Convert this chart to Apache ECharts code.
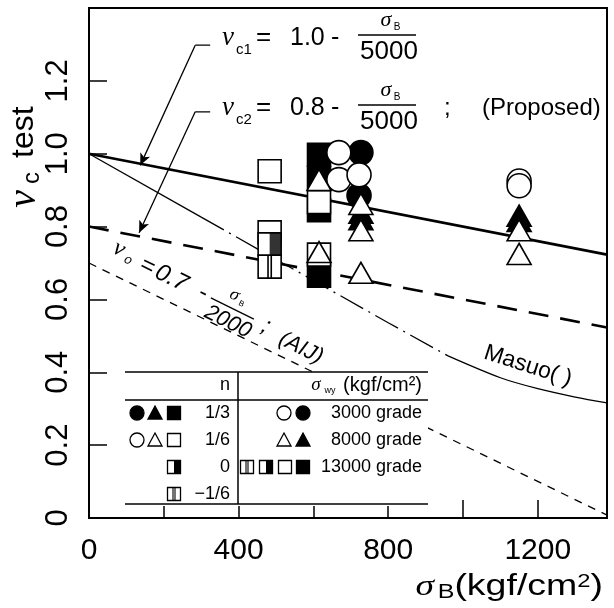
<!DOCTYPE html>
<html>
<head>
<meta charset="utf-8">
<script src="https://cdn.jsdelivr.net/npm/echarts@6/dist/echarts.min.js"></script>
<style>
  html, body { margin: 0; padding: 0; background: #fff; }
  #chart { width: 614px; height: 608px; }
</style>
</head>
<body>
<div id="chart"></div>
<script>
// design lines (sigma_B in kgf/cm2, nu)
const sigmaLine = [0, 1385]
const nuC1 = [1.0, 0.723]
const nuC2 = [0.8, 0.523]
const nuAIJ = [0.7, 0.008]
const masuoSigma = [0, 300, 600, 800, 960, 1100, 1200, 1300, 1385]
const masuoNu = [1.0, 0.826, 0.652, 0.536, 0.445, 0.385, 0.355, 0.332, 0.316]

// test points
const openCircle = [[668, 1.003], [668, 0.929], [722, 0.942], [1150, 0.925], [1150, 0.912]]
const fullCircle = [[727, 1.003], [722, 0.885]]
const openTri = [[615, 0.928], [727, 0.862], [727, 0.79], [1150, 0.79], [1150, 0.725], [727, 0.673], [615, 0.73]]
const fullTri = [[727, 0.838], [727, 0.82], [1150, 0.83], [1150, 0.815]]
const fullSq = [[615, 0.997], [615, 0.934], [615, 0.845], [615, 0.665]]
const openSq = [[483, 0.952], [483, 0.784], [615, 0.867], [615, 0.723]]
const halfSq = [[483, 0.751]]
const splitSq = [[483, 0.69]]

// arrows from the formulas to the lines
const arrow1Stub = [[324, 1.298], [284, 1.298]]
const arrow1Tip = [137, 0.968]
const arrow2Stub = [[324, 1.115], [284, 1.115]]
const arrow2Tip = [134, 0.783]

const xLabels = [0, 400, 800, 1200]
const yLabels = [0, 0.2, 0.4, 0.6, 0.8, 1.0, 1.2]

const pairs = (xs, ys) => xs.map((x, i) => [x, ys[i]])
const masuo = pairs(masuoSigma, masuoNu)

const SANS = 'Liberation Sans, Arial, sans-serif'
const SERIF = 'Liberation Serif, Times New Roman, serif'
const splitPath = 'path://M0,0L10,0L10,10L0,10Z M4.3,0L4.3,10 M5.7,0L5.7,10'

const chart = echarts.init(document.getElementById('chart'))

const lineBase = { type: 'line', symbol: 'none', silent: true, z: 2 }
const dots = (data, symbol, size, fill, z) => ({
  type: 'scatter', data, symbol, symbolSize: size, silent: true, z,
  itemStyle: { color: fill, borderColor: '#000', borderWidth: 1.6, opacity: 1 },
})
const arrow = (stub, tip) => ({
  ...lineBase,
  data: stub,
  lineStyle: { color: '#000', width: 1.3 },
  markLine: {
    silent: true,
    symbol: ['none', 'arrow'],
    symbolSize: [8, 12],
    label: { show: false },
    lineStyle: { color: '#000', width: 1.3, type: 'solid' },
    data: [[{ coord: stub[1] }, { coord: tip }]],
  },
})

// helpers for the text annotations
const txt = (x, y, text, size, extra, el) => Object.assign({
  type: 'text', x, y, z: 60,
  style: Object.assign({ text, fontSize: size, fontFamily: SANS, fill: '#000', align: 'left', verticalAlign: 'middle' }, extra || {}),
}, el || {})
const greek = { fontFamily: SERIF, fontStyle: 'italic' }
const hline = (x1, x2, y, w) => ({ type: 'line', z: 60, shape: { x1, y1: y, x2, y2: y }, style: { stroke: '#000', lineWidth: w || 1.5 } })
const vline = (x, y1, y2, w) => ({ type: 'line', z: 60, shape: { x1: x, y1, x2: x, y2 }, style: { stroke: '#000', lineWidth: w || 1.5 } })

const formula = (dy, sub, head) => [
  txt(222, 38 + dy, 'ν', 27, greek),
  txt(236, 50 + dy, sub, 15),
  txt(256, 38 + dy, '=', 26),
  txt(290, 38 + dy, head, 25),
  txt(331, 38 + dy, '-', 25),
  txt(386, 20 + dy, 'σ', 22, Object.assign({ align: 'center' }, greek)),
  txt(397, 27 + dy, 'B', 10, { align: 'center' }),
  hline(358, 416, 35 + dy),
  txt(389, 52 + dy, '5000', 26, { align: 'center' }),
]

// legend glyphs
const G = 7
const gCircle = (cx, cy, fill) => ({ type: 'circle', z: 60, shape: { cx, cy, r: G }, style: { fill, stroke: '#000', lineWidth: 1.3 } })
const gTri = (cx, cy, fill) => ({ type: 'polygon', z: 60, shape: { points: [[cx, cy - G], [cx + G, cy + G - 1], [cx - G, cy + G - 1]] }, style: { fill, stroke: '#000', lineWidth: 1.3 } })
const gSq = (cx, cy, fill) => ({ type: 'rect', z: 60, shape: { x: cx - G + 0.5, y: cy - G + 0.5, width: 2 * G - 1, height: 2 * G - 1 }, style: { fill, stroke: '#000', lineWidth: 1.3 } })
const gHalf = (cx, cy) => [gSq(cx, cy, '#fff'), { type: 'rect', z: 61, shape: { x: cx, y: cy - G + 0.5, width: G - 0.5, height: 2 * G - 1 }, style: { fill: '#000' } }]
const gSplit = (cx, cy) => [gSq(cx, cy, '#fff'), vline(cx - 1, cy - G, cy + G, 1.1), vline(cx + 1, cy - G, cy + G, 1.1)]

const legend = [
  { type: 'rect', z: 50, shape: { x: 125, y: 372, width: 303, height: 134 }, style: { fill: '#fff' } },
  hline(125, 428, 372), hline(125, 428, 400), hline(125, 428, 504), vline(238, 372, 504),
  txt(230, 385, 'n', 18, { align: 'right' }),
  txt(316, 385, 'σ', 19, Object.assign({ align: 'center' }, greek)),
  txt(330, 391, 'wy', 9, { align: 'center' }),
  txt(422, 385, '(kgf/cm²)', 20, { align: 'right' }),
  gCircle(137, 413, '#000'), gTri(155, 413, '#000'), gSq(174, 413, '#000'),
  txt(230, 413, '1/3', 18, { align: 'right' }),
  gCircle(137, 440, '#fff'), gTri(155, 440, '#fff'), gSq(174, 440, '#fff'),
  txt(230, 440, '1/6', 18, { align: 'right' }),
  ...gHalf(174, 467),
  txt(230, 467, '0', 18, { align: 'right' }),
  ...gSplit(174, 494),
  txt(230, 494, '−1/6', 18, { align: 'right' }),
  gCircle(284, 413, '#fff'), gCircle(303, 413, '#000'),
  txt(422, 413, '3000 grade', 18, { align: 'right' }),
  gTri(284, 440, '#fff'), gTri(303, 440, '#000'),
  txt(422, 440, '8000 grade', 18, { align: 'right' }),
  ...gSplit(247, 467), ...gHalf(266, 467), gSq(285, 467, '#fff'), gSq(303, 467, '#000'),
  txt(422, 467, '13000 grade', 18, { align: 'right' }),
]

const aijLabel = {
  type: 'group', x: 119, y: 249, rotation: -0.46, z: 60,
  children: [
    txt(0, 0, 'ν', 24, Object.assign({ align: 'center' }, greek)),
    txt(13, 6, 'o', 13, { align: 'center', fontStyle: 'italic' }),
    txt(33, 3, '=', 24, { align: 'center', fontStyle: 'italic' }),
    txt(60, 3, '0.7', 24, { align: 'center', fontStyle: 'italic' }),
    txt(95, 2, '-', 24, { align: 'center' }),
    txt(124, -10, 'σ', 18, Object.assign({ align: 'center' }, greek)),
    txt(134, -5, 'B', 8, { align: 'center' }),
    { type: 'line', z: 60, shape: { x1: 104, y1: 3, x2: 152, y2: 3 }, style: { stroke: '#000', lineWidth: 1.3 } },
    txt(130, 17, '2000', 22, { align: 'center', fontStyle: 'italic' }),
    txt(166, 4, ';', 24, { align: 'center', fontStyle: 'italic' }),
    txt(207, 8, '(AIJ)', 22, { align: 'center', fontStyle: 'italic' }),
  ],
}

chart.setOption({
  animation: false,
  backgroundColor: '#fff',
  grid: {
    left: 89, right: 7, top: 8, bottom: 90,
    show: true, borderColor: '#000', borderWidth: 2,
    outerBoundsMode: 'none',
  },
  xAxis: {
    type: 'value', min: 0, max: 1385, interval: 200,
    axisLine: { lineStyle: { color: '#000', width: 2 } },
    axisTick: { inside: true, length: 18, lineStyle: { color: '#000', width: 1.5 } },
    axisLabel: {
      color: '#000', fontSize: 30, fontFamily: SANS, margin: 18,
      showMaxLabel: false, hideOverlap: false,
      formatter: (v) => (xLabels.includes(v) ? String(v) : ''),
    },
    splitLine: { show: false },
  },
  yAxis: {
    type: 'value', min: 0, max: 1.4, interval: 0.2,
    axisLine: { lineStyle: { color: '#000', width: 2 } },
    axisTick: { inside: true, length: 18, lineStyle: { color: '#000', width: 1.5 } },
    axisLabel: {
      color: '#000', fontSize: 31, fontFamily: SANS, margin: 15, rotate: 90,
      hideOverlap: false,
      formatter: (v) => {
        const hit = yLabels.find((t) => Math.abs(t - v) < 1e-6)
        if (hit === undefined) return ''
        return hit === 0 ? '0' : hit.toFixed(1)
      },
    },
    splitLine: { show: false },
  },
  graphic: [
    // y axis title
    {
      type: 'text', x: 24, y: 157, rotation: Math.PI / 2, z: 60,
      style: {
        text: '{n|ν}{c|c}{t|test}', align: 'center', verticalAlign: 'middle', fill: '#000',
        rich: {
          n: { fontSize: 40, fontFamily: SERIF, fontStyle: 'italic', fill: '#000' },
          c: { fontSize: 24, fontFamily: SANS, fill: '#000', verticalAlign: 'bottom', padding: [0, 14, 0, 6] },
          t: { fontSize: 32, fontFamily: SANS, fill: '#000' },
        },
      },
    },
    // x axis title
    {
      type: 'text', x: 603, y: 587, z: 60, scaleX: 1.25,
      style: {
        text: '{s|σ}{b|B}{t|(kgf/cm}{p|2}{t|)}', align: 'right', verticalAlign: 'middle', fill: '#000',
        rich: {
          s: { fontSize: 30, fontFamily: SERIF, fontStyle: 'italic', fill: '#000', padding: [0, 3, 0, 0] },
          b: { fontSize: 20, fontFamily: SANS, fill: '#000', verticalAlign: 'bottom' },
          t: { fontSize: 30, fontFamily: SANS, fill: '#000' },
          p: { fontSize: 19, fontFamily: SANS, fill: '#000', verticalAlign: 'top' },
        },
      },
    },
    ...formula(0, 'c1', '1.0'),
    ...formula(70, 'c2', '0.8'),
    txt(444, 108, ';', 24),
    txt(482, 108, '(Proposed)', 24),
    aijLabel,
    txt(528, 366, 'Masuo( )', 23, { align: 'center' }, { rotation: -0.31 }),
    ...legend,
  ],
  series: [
    { ...lineBase, data: pairs(sigmaLine, nuC1), lineStyle: { color: '#000', width: 2.6 } },
    { ...lineBase, data: pairs(sigmaLine, nuC2), lineStyle: { color: '#000', width: 2.6, type: [20, 12] } },
    { ...lineBase, data: pairs(sigmaLine, nuAIJ), lineStyle: { color: '#000', width: 1.3, type: [8, 7] } },
    { ...lineBase, data: masuo.slice(0, 2), lineStyle: { color: '#000', width: 1.3 } },
    { ...lineBase, data: masuo.slice(1, 5), lineStyle: { color: '#000', width: 1.3, type: [26, 6, 2, 6] } },
    { ...lineBase, data: masuo.slice(4), smooth: 0.3, lineStyle: { color: '#000', width: 1.3 } },
    arrow(arrow1Stub, arrow1Tip),
    arrow(arrow2Stub, arrow2Tip),
    dots(fullSq, 'rect', 23, '#000', 3),
    dots(openSq, 'rect', 23, '#fff', 4),
    dots(halfSq, 'rect', 23, '#fff', 4),
    { type: 'scatter', data: halfSq, symbol: 'rect', symbolSize: [11.5, 23], symbolOffset: [5.75, 0], silent: true, z: 4, itemStyle: { color: '#000' } },
    dots(splitSq, splitPath, 23, '#fff', 4),
    dots(fullCircle, 'circle', 24, '#000', 5),
    dots(openCircle, 'circle', 24, '#fff', 6),
    dots(fullTri, 'triangle', [24, 21], '#000', 7),
    dots(openTri, 'triangle', [24, 21], '#fff', 7),
  ],
})
</script>
</body>
</html>
